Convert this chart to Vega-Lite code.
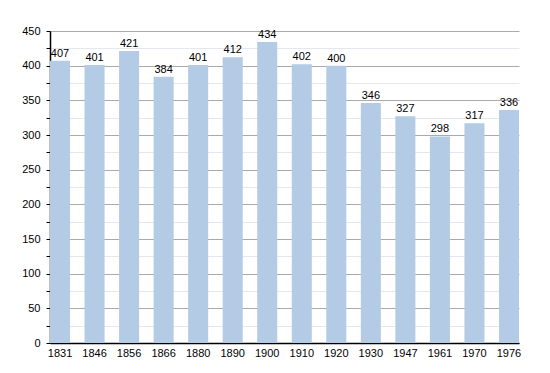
{
  "$schema": "https://vega.github.io/schema/vega-lite/v6.json",
  "autosize": "none",
  "width": 469,
  "height": 312,
  "padding": {"left": 50, "top": 31, "right": 31, "bottom": 30},
  "background": "white",
  "config": {"view": {"stroke": null}, "font": "Liberation Sans"},
  "data": {"values": [
    {"year": "1831", "pop": 407},
    {"year": "1846", "pop": 401},
    {"year": "1856", "pop": 421},
    {"year": "1866", "pop": 384},
    {"year": "1880", "pop": 401},
    {"year": "1890", "pop": 412},
    {"year": "1900", "pop": 434},
    {"year": "1910", "pop": 402},
    {"year": "1920", "pop": 400},
    {"year": "1930", "pop": 346},
    {"year": "1947", "pop": 327},
    {"year": "1961", "pop": 298},
    {"year": "1970", "pop": 317},
    {"year": "1976", "pop": 336}
  ]},
  "encoding": {
    "x": {"field": "year", "type": "ordinal", "sort": null,
      "scale": {"paddingInner": 0.42, "paddingOuter": 0},
      "axis": {"title": null, "labelAngle": 0, "ticks": false, "domainColor": "#000", "domainWidth": 1.5, "labelColor": "#000", "labelFontSize": 11, "labelPadding": 4}},
    "y": {"field": "pop", "type": "quantitative",
      "scale": {"domain": [0, 450], "nice": false},
      "axis": {"title": null, "values": [0,25,50,75,100,125,150,175,200,225,250,275,300,325,350,375,400,425,450],
        "labelExpr": "datum.value % 50 === 0 ? datum.label : ''",
        "grid": true,
        "gridColor": {"condition": {"test": "datum.value % 50 === 0", "value": "#aaaaaa"}, "value": "#e4e8ee"},
        "domainColor": "#000", "domainWidth": 1.5, "tickColor": "#000", "tickSize": 4,
        "labelColor": "#000", "labelFontSize": 11, "labelPadding": 6}}
  },
  "layer": [
    {"mark": {"type": "bar", "color": "#b3cbe5"}},
    {"mark": {"type": "text", "dy": -7, "fontSize": 11, "color": "#000"}, "encoding": {"text": {"field": "pop", "type": "quantitative"}}}
  ]
}
